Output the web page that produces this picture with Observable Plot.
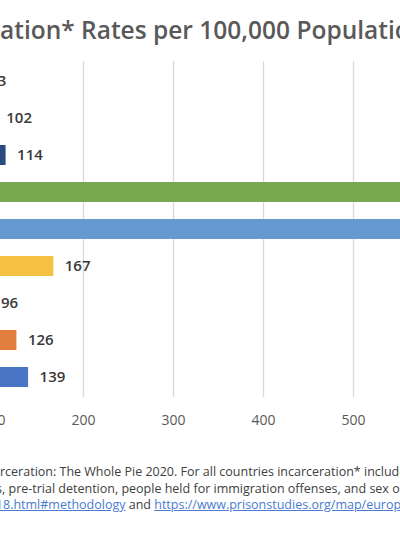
<!DOCTYPE html>
<html>
<head>
<meta charset="utf-8">
<script src="https://cdn.jsdelivr.net/npm/d3@7"></script>
<script src="https://cdn.jsdelivr.net/npm/@observablehq/plot@0.6"></script>
<style>
  body { margin: 0; width: 400px; height: 533px; overflow: hidden; background: #fff;
         font-family: "Open Sans", sans-serif; }
  .line { white-space: nowrap; overflow: hidden; }
  #title { height: 58px; line-height: 60px; font-size: 24.5px; font-weight: 600; color: #595959; }
  #notes { margin-top: 27px; font-size: 12.5px; line-height: 16.5px; color: #404040; }
  .link { color: #4a7bd0; text-decoration: underline; }
  #chart svg { display: block; }
</style>
</head>
<body>
<div id="title" class="line"><span class="pre">Incarcer</span>ation* Rates per 100,000 Population</div>
<div id="chart"></div>
<div id="notes">
  <div class="line" data-off="0"><span class="pre">Source: Prison Policy Initiative, Mass Inca</span>rceration: The Whole Pie 2020. For all countries incarceration* includes people held in prisons, jails</div>
  <div class="line" data-off="2"><span class="pre">people held in prisons, jails</span>, pre-trial detention, people held for immigration offenses, and sex offenders in civil commitment.</div>
  <div class="line" data-off="3"><span class="link"><span class="pre">https://www.prisonpolicy.org/global/201</span>8.html#methodology</span> and <span class="link">https://www.prisonstudies.org/map/europe</span></div>
</div>
<script>
// rows listed top to bottom; country names sit off the left edge of the crop
const countries = ["Country 1", "Country 2", "Country 3", "Country 4", "Country 5",
                   "Country 6", "Country 7", "Country 8", "Country 9"];
const rates = [83, 102, 114, 698, 655, 167, 96, 126, 139];
const colors = ["#636363", "#9e480e", "#2a4a80", "#78a950", "#6699d0",
                "#f4c142", "#a5a5a5", "#e27f3e", "#4a74c5"];
const xTicks = [100, 200, 300, 400, 500, 600];

const rows = countries.map((c, i) => ({country: c, rate: rates[i]}));

const chart = Plot.plot({
  width: 400,
  height: 379,
  marginTop: 3,
  marginBottom: 40,
  marginLeft: 0,
  marginRight: 0,
  style: {"font-family": "'Open Sans', sans-serif", background: "#fff"},
  x: {domain: [107.8, 552.2], axis: null},
  y: {domain: countries, paddingInner: 0.45, paddingOuter: 0.225, axis: null},
  color: {domain: countries, range: colors},
  marks: [
    Plot.ruleX(xTicks.slice(1), {stroke: "#d9d9d9", strokeWidth: 1.3}),
    Plot.barX(rows, {x: "rate", y: "country", fill: "country", clip: true}),
    Plot.text(rows, {x: "rate", y: "country", text: (d) => d.rate, dx: 11, textAnchor: "start",
                     fontSize: 15, fontWeight: 600, fill: "#3a3a3a"}),
    Plot.axisX(xTicks, {tickSize: 0, tickPadding: 18, fontSize: 14, fill: "#595959", label: null})
  ]
});

document.getElementById('chart').append(chart);

// shift each cropped text line so the hidden prefix falls off the left edge
document.querySelectorAll('.line').forEach((line) => {
  const pre = line.querySelector('.pre');
  const off = +(line.dataset.off || 0);
  line.style.textIndent = (off - pre.getBoundingClientRect().width) + 'px';
});
</script>
</body>
</html>
